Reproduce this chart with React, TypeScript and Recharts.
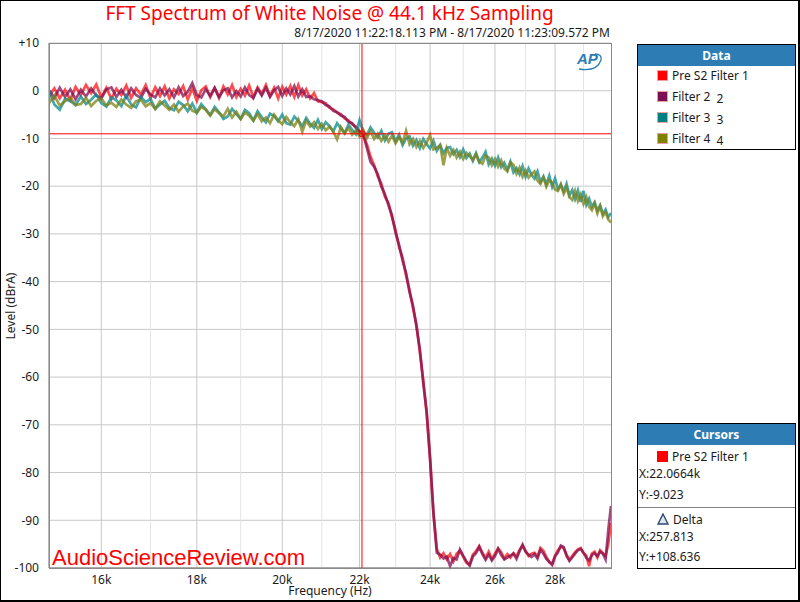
import React from "react";
import {
  LineChart,
  Line,
  XAxis,
  YAxis,
  CartesianGrid,
  ReferenceLine,
  ReferenceDot,
} from "recharts";

// Frequenzen (Hz), 100 Hz Schritt
const FREQ_HZ = [
  15000, 15100, 15200, 15300, 15400, 15500, 15600, 15700, 15800, 15900,
  16000, 16100, 16200, 16300, 16400, 16500, 16600, 16700, 16800, 16900,
  17000, 17100, 17200, 17300, 17400, 17500, 17600, 17700, 17800, 17900,
  18000, 18100, 18200, 18300, 18400, 18500, 18600, 18700, 18800, 18900,
  19000, 19100, 19200, 19300, 19400, 19500, 19600, 19700, 19800, 19900,
  20000, 20100, 20200, 20300, 20400, 20500, 20600, 20700, 20800, 20900,
  21000, 21100, 21200, 21300, 21400, 21500, 21600, 21700, 21800, 21900,
  22000, 22100, 22200, 22300, 22400, 22500, 22600, 22700, 22800, 22900,
  23000, 23100, 23200, 23300, 23400, 23500, 23600, 23700, 23800, 23900,
  24000, 24100, 24200, 24300, 24400, 24500, 24600, 24700, 24800, 24900,
  25000, 25100, 25200, 25300, 25400, 25500, 25600, 25700, 25800, 25900,
  26000, 26100, 26200, 26300, 26400, 26500, 26600, 26700, 26800, 26900,
  27000, 27100, 27200, 27300, 27400, 27500, 27600, 27700, 27800, 27900,
  28000, 28100, 28200, 28300, 28400, 28500, 28600, 28700, 28800, 28900,
  29000, 29100, 29200, 29300, 29400, 29500, 29600, 29700, 29800, 29900,
  30000,
];

// Pre S2 Filter 1 (rot)
const PRE_S2_FILTER_1 = [
  -1.2, 0.5, -1.6, 0.2, -1.9, 0.8, -0.9, 1.2, -0.5, 1.3,
  -1.4, 0.6, -1.7, 0.4, -0.9, 1.1, -1.5, 0.5, -0.8, 1.2,
  -1.5, 0.7, -1.1, 0.9, -1.6, 0.3, -0.7, 1.0, -1.8, 0.5,
  -2.1, 0.1, 0.9, -1.3, 0.6, -1.5, 0.9, -0.8, 1.2, -1.3,
  0.4, -1.0, 1.1, -1.4, 0.7, -0.7, 1.2, -1.1, 0.6, -1.6,
  0.8, -0.8, 1.0, -1.3, 1.2, -1.0, 0.3, -1.6, -0.5, -2.2,
  -2.4, -2.6, -3.6, -3.9, -4.6, -4.9, -5.8, -6.2, -7.0, -7.5,
  -8.4, -9.4, -11.2, -13.8, -15.6, -17.9, -19.5, -22.2, -23.5, -26.6,
  -29.2, -32.8, -35.0, -38.7, -41.8, -45.6, -49.0, -54.8, -60.7, -67.8,
  -76.8, -88.6, -96.0, -97.8, -96.9, -98.2, -97.1, -98.6, -97.0, -96.4,
  -97.6, -98.9, -99.3, -97.2, -96.5, -95.4, -96.8, -97.9, -96.6, -98.1,
  -97.0, -95.9, -96.7, -98.0, -97.1, -97.8, -96.9, -97.6, -96.2, -95.3,
  -96.4, -97.5, -97.0, -96.8, -97.6, -95.8, -96.4, -97.7, -98.8, -99.1,
  -97.4, -96.3, -95.5, -95.9, -97.2, -98.3, -97.5, -96.7, -96.1, -95.8,
  -96.9, -97.4, -99.6, -97.0, -96.6, -97.8, -96.3, -96.9, -97.5, -95.0,
  -90.5,
];

// Filter 2 (violett)
const FILTER_2 = [
  0.1, -1.5, 0.6, -1.3, 0.3, -1.8, 0.2, -1.2, 0.5, -1.0,
  -1.6, 0.3, 0.7, -1.3, 0.2, -1.4, 0.5, -0.9, -1.5, 0.4,
  -0.8, -1.4, 0.5, -1.0, 0.3, -1.4, 0.7, -1.1, -0.2, 1.6,
  -0.9, -1.4, 0.3, -1.1, 0.6, -1.3, 0.1, 0.5, -1.4, -0.1,
  -1.2, 0.7, -0.9, -1.5, 0.4, -1.0, 0.6, -1.3, 0.1, 0.8,
  -1.1, 0.5, -0.8, 1.0, -1.2, 0.3, -1.3, -1.2, -1.8, -2.0,
  -2.2, -3.0, -3.3, -4.2, -4.5, -5.2, -5.5, -6.5, -6.8, -7.8,
  -8.7, -9.1, -12.0, -14.9, -15.9, -17.5, -20.1, -21.7, -24.0, -26.1,
  -29.8, -32.3, -35.6, -38.2, -42.2, -45.0, -49.4, -54.2, -61.3, -67.2,
  -77.3, -88.4, -96.8, -97.2, -98.0, -97.6, -99.6, -97.9, -98.2, -96.1,
  -97.4, -98.6, -99.5, -97.6, -96.9, -95.6, -97.1, -98.3, -97.2, -98.4,
  -97.5, -96.0, -97.3, -98.2, -97.8, -97.4, -97.0, -98.1, -96.5, -95.1,
  -96.6, -97.2, -97.7, -97.1, -98.0, -96.2, -97.0, -98.1, -98.7, -99.4,
  -97.6, -96.7, -95.3, -95.6, -97.5, -98.5, -97.8, -97.0, -96.3, -96.0,
  -96.8, -97.9, -98.4, -97.3, -96.9, -97.5, -96.6, -97.0, -98.2, -92.0,
  -87.0,
];

// Filter 3 (petrol)
const FILTER_3 = [
  0.0, -2.9, -4.0, -1.7, -2.2, -3.0, -1.2, -2.8, -1.9, -0.8,
  -2.6, -3.3, -1.4, -2.0, -3.2, -1.0, -2.9, -3.5, -1.3, -2.4,
  -1.7, -3.8, -2.9, -2.1, -3.6, -4.1, -2.3, -3.0, -4.3, -2.7,
  -4.6, -2.8, -3.9, -5.1, -3.4, -4.5, -5.9, -5.4, -3.8, -4.9,
  -5.9, -4.0, -4.7, -6.2, -4.3, -5.5, -6.6, -4.8, -5.3, -6.4,
  -5.0, -6.8, -7.1, -5.4, -6.3, -7.4, -5.7, -6.9, -7.8, -6.1,
  -8.0, -6.6, -7.4, -8.5, -6.8, -7.9, -8.9, -7.1, -8.2, -9.1,
  -6.2, -8.6, -9.3, -7.7, -8.8, -9.8, -8.4, -10.4, -9.0, -8.7,
  -10.6, -9.2, -11.4, -10.0, -9.6, -11.5, -10.3, -12.0, -10.1, -11.2,
  -12.1, -10.5, -12.6, -11.4, -13.1, -12.0, -11.8, -13.3, -12.4, -13.9,
  -12.3, -14.1, -13.2, -14.7, -13.1, -15.0, -14.0, -12.8, -15.4, -14.2,
  -15.7, -14.0, -16.0, -15.1, -16.6, -14.9, -17.1, -16.2, -17.5, -15.8,
  -18.0, -16.3, -17.6, -18.4, -16.9, -19.1, -18.0, -19.6, -17.8, -20.1,
  -18.4, -20.6, -19.7, -21.1, -19.5, -21.9, -20.8, -22.7, -20.9, -23.3,
  -21.0, -23.9, -22.6, -24.3, -23.4, -25.1, -24.0, -25.8, -24.9, -26.5,
  -25.6,
];

// Filter 4 (oliv)
const FILTER_4 = [
  -2.6, -1.0, -3.1, -2.2, -1.4, -3.0, -2.8, -1.5, -3.2, -2.1,
  -1.6, -3.1, -2.5, -3.4, -1.8, -2.9, -3.6, -2.2, -1.9, -3.3,
  -2.6, -3.8, -2.2, -3.1, -4.0, -2.9, -4.4, -3.3, -2.7, -4.2,
  -4.6, -3.4, -4.0, -5.2, -3.9, -4.7, -5.4, -3.8, -5.6, -4.4,
  -5.9, -4.6, -5.2, -6.3, -4.9, -6.4, -5.6, -6.8, -5.0, -6.2,
  -7.0, -5.5, -6.6, -7.4, -6.0, -8.6, -6.3, -7.5, -6.6, -8.0,
  -6.9, -8.3, -7.5, -8.6, -10.2, -7.6, -8.9, -7.8, -9.2, -8.3,
  -9.6, -8.2, -9.9, -8.5, -10.1, -9.0, -10.5, -9.3, -10.7, -9.4,
  -11.0, -9.7, -10.9, -8.4, -11.2, -10.1, -11.8, -10.5, -12.0, -10.8,
  -9.3, -12.3, -12.0, -11.4, -15.6, -12.0, -13.6, -12.4, -14.0, -12.8,
  -14.3, -13.0, -13.7, -14.5, -13.3, -14.9, -15.3, -13.6, -14.0, -15.6,
  -14.3, -15.9, -14.6, -16.3, -16.9, -15.0, -15.5, -17.4, -16.1, -18.0,
  -16.7, -18.2, -17.5, -16.9, -18.8, -19.5, -18.1, -20.1, -18.7, -19.3,
  -20.7, -21.0, -19.6, -21.6, -20.3, -22.3, -22.9, -21.0, -23.1, -21.7,
  -23.7, -22.3, -24.3, -25.0, -23.6, -25.7, -24.2, -26.3, -25.4, -27.0,
  -27.6,
];

const X_TICKS = [16000, 18000, 20000, 22000, 24000, 26000, 28000];
const MINOR_GRID = [17000, 19000, 21000, 23000, 25000, 27000, 29000];
const Y_TICKS = [10, 0, -10, -20, -30, -40, -50, -60, -70, -80, -90, -100];

const SERIES = [
  { key: "s1", name: "Pre S2 Filter 1", tag: "", swatch: "#ff0000", stroke: "#ff1010" },
  { key: "s2", name: "Filter 2", tag: "2", swatch: "#7d1055", stroke: "#7d1055" },
  { key: "s3", name: "Filter 3", tag: "3", swatch: "#008080", stroke: "#068a8e" },
  { key: "s4", name: "Filter 4", tag: "4", swatch: "#808000", stroke: "#7f8010" },
];

const CURSOR = { x: 22066.4, y: -9.023, xText: "22.0664k", yText: "-9.023", dx: "257.813", dy: "+108.636" };

const data = FREQ_HZ.map((f, i) => ({
  f,
  s1: PRE_S2_FILTER_1[i],
  s2: FILTER_2[i],
  s3: FILTER_3[i],
  s4: FILTER_4[i],
}));

const FONT = "'Noto Sans', 'Open Sans', sans-serif";
const HEADER_BLUE = "#2d7db4";

function fmtY(v: number) {
  return v > 0 ? `+${v}` : `${v}`;
}

function Abs({ left, top, children, style }: any) {
  return (
    <div style={{ position: "absolute", left, top, whiteSpace: "nowrap", ...style }}>
      {children}
    </div>
  );
}

export default function App() {
  return (
    <div
      style={{
        position: "absolute",
        left: 0,
        top: 0,
        width: 800,
        height: 602,
        background: "#fff",
        fontFamily: FONT,
        color: "#1a1a1a",
        overflow: "hidden",
      }}
    >
      {/* Rahmen */}
      <div style={{ position: "absolute", left: 0, top: 0, width: 797, height: 599, borderLeft: "1px solid #000", borderTop: "1px solid #000", borderRight: "2px solid #000", borderBottom: "2px solid #000" }} />

      {/* Titel */}
      <Abs left={0} top={2} style={{ width: 659, textAlign: "center", fontSize: 19, lineHeight: "22px", color: "#ff0000" }}>
        FFT Spectrum of White Noise @ 44.1 kHz Sampling
      </Abs>
      <Abs left={0} top={25} style={{ width: 610, textAlign: "right", fontSize: 12, lineHeight: "15px" }}>
        8/17/2020 11:22:18.113 PM - 8/17/2020 11:23:09.572 PM
      </Abs>

      <div style={{ position: "absolute", left: 0, top: 0 }}>
        <LineChart width={800} height={602} data={data} margin={{ top: 43, right: 189, bottom: 0, left: 0 }}>
          <CartesianGrid horizontal vertical={false} stroke="#c8c8c8" />
          {MINOR_GRID.map((g) => (
            <ReferenceLine key={`m${g}`} x={g} stroke="#e4e4e4" />
          ))}
          {X_TICKS.map((g) => (
            <ReferenceLine key={`M${g}`} x={g} stroke="#c8c8c8" />
          ))}
          <XAxis
            dataKey="f"
            type="number"
            scale="log"
            domain={[15000, 30000]}
            allowDataOverflow
            ticks={X_TICKS}
            tickFormatter={(v: number) => `${v / 1000}k`}
            height={34}
            tickLine={false}
            tickMargin={1}
            stroke="#707070"
            tick={{ fill: "#1a1a1a", fontSize: 12, fontFamily: FONT }}
          />
          <YAxis
            type="number"
            domain={[-100, 10]}
            ticks={Y_TICKS}
            interval={0}
            tickFormatter={fmtY}
            width={49}
            tickLine={false}
            tickMargin={4}
            stroke="#707070"
            tick={{ fill: "#1a1a1a", fontSize: 12, fontFamily: FONT }}
          />
          {SERIES.map((s) => (
            <Line
              key={s.key}
              type="linear"
              dataKey={s.key}
              name={s.name}
              stroke={s.stroke}
              strokeOpacity={0.75}
              strokeWidth={2.7}
              dot={false}
              isAnimationActive={false}
            />
          ))}
          <ReferenceLine x={CURSOR.x} stroke="#ff0000" strokeWidth={1} />
          <ReferenceLine y={CURSOR.y} stroke="#ff0000" strokeWidth={1} />
          <ReferenceDot x={CURSOR.x} y={CURSOR.y} r={3} fill="none" stroke="#ff0000" strokeWidth={1} />
        </LineChart>
      </div>

      {/* Plotrahmen */}
      <div style={{ position: "absolute", left: 49, top: 43, width: 561, height: 524, border: "1px solid #8a8a8a", pointerEvents: "none" }} />

      {/* Achsentitel */}
      <Abs left={0} top={584} style={{ width: 660, textAlign: "center", fontSize: 12, lineHeight: "13px" }}>
        Frequency (Hz)
      </Abs>
      <Abs left={11} top={306} style={{ fontSize: 12, lineHeight: "16px", transform: "translate(-50%, -50%) rotate(-90deg)" }}>
        Level (dBrA)
      </Abs>

      {/* AP Logo */}
      <Abs left={577} top={50} style={{ fontSize: 15, lineHeight: "18px", fontStyle: "italic", fontWeight: 700, color: "#2d7db4", fontFamily: "'Liberation Sans', Arial, sans-serif" }}>
        AP
      </Abs>
      <svg style={{ position: "absolute", left: 575, top: 52 }} width={30} height={20}>
        <path d="M 4 17 Q 22 20 26 8 Q 27 2 20 2" fill="none" stroke="#2d7db4" strokeWidth={1.3} />
      </svg>

      {/* Wasserzeichen */}
      <Abs left={52} top={546} style={{ fontSize: 22, lineHeight: "23px", color: "#ff0000", fontFamily: "'Liberation Sans', Arial, sans-serif" }}>
        AudioScienceReview.com
      </Abs>

      {/* Legende Data */}
      <div style={{ position: "absolute", left: 637, top: 44, width: 157, height: 104, border: "1px solid #000", background: "#fff" }}>
        <div style={{ height: 21, background: HEADER_BLUE, color: "#fff", fontWeight: 700, fontSize: 12, lineHeight: "21px", textAlign: "center" }}>
          Data
        </div>
        {SERIES.map((s, i) => (
          <div key={s.key} style={{ position: "absolute", left: 19, top: 22 + i * 21.3, height: 16, display: "flex", alignItems: "center", fontSize: 12, whiteSpace: "nowrap" }}>
            <span style={{ display: "inline-block", width: 11, height: 11, background: s.swatch, border: "1px solid #e8a0a0", marginRight: 4, boxSizing: "border-box" }} />
            <span>{s.name}</span>
            {s.tag && <span style={{ marginLeft: 6, position: "relative", top: 2 }}>{s.tag}</span>}
          </div>
        ))}
      </div>

      {/* Cursors */}
      <div style={{ position: "absolute", left: 637, top: 423, width: 157, height: 144, border: "1px solid #000", background: "#fff", fontSize: 12 }}>
        <div style={{ height: 21, background: HEADER_BLUE, color: "#fff", fontWeight: 700, fontSize: 12, lineHeight: "21px", textAlign: "center" }}>
          Cursors
        </div>
        <div style={{ position: "absolute", left: 19, top: 24, height: 16, display: "flex", alignItems: "center", whiteSpace: "nowrap" }}>
          <span style={{ display: "inline-block", width: 11, height: 11, background: "#ff0000", marginRight: 4 }} />
          <span>{SERIES[0].name}</span>
        </div>
        <Abs left={1} top={42} style={{ lineHeight: "16px" }}>X:{CURSOR.xText}</Abs>
        <Abs left={1} top={63} style={{ lineHeight: "16px" }}>Y:{CURSOR.yText}</Abs>
        <div style={{ position: "absolute", left: 0, top: 83, width: 157, height: 1, background: "#808080" }} />
        <div style={{ position: "absolute", left: 19, top: 87, height: 16, display: "flex", alignItems: "center", whiteSpace: "nowrap" }}>
          <svg width={12} height={12} style={{ marginRight: 4 }}>
            <polygon points="6,1 11,11 1,11" fill="#dde6f0" stroke="#2c4a6e" strokeWidth={1.4} />
          </svg>
          <span>Delta</span>
        </div>
        <Abs left={1} top={105} style={{ lineHeight: "16px" }}>X:{CURSOR.dx}</Abs>
        <Abs left={1} top={125} style={{ lineHeight: "16px" }}>Y:{CURSOR.dy}</Abs>
      </div>
    </div>
  );
}
